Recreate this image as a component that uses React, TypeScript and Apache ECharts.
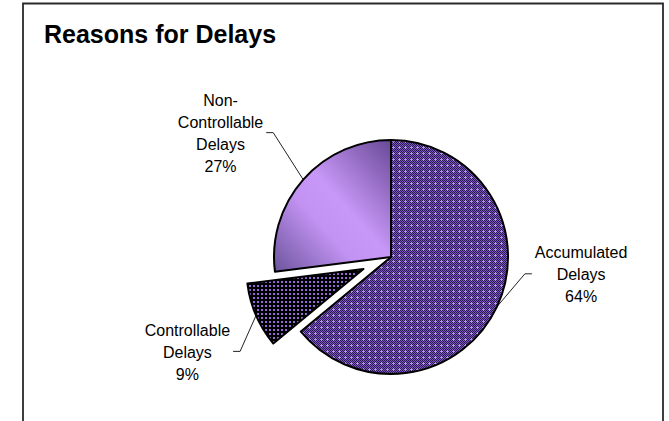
import React, { useEffect, useRef } from 'react';
import * as echarts from 'echarts';

const TITLE = 'Reasons for Delays';
const CATEGORIES = ['Accumulated Delays', 'Controllable Delays', 'Non-Controllable Delays'];
const VALUES = [64, 9, 27];
const EXPLODED_INDEX = 1;

// layout / style constants
const CENTER = [391, 257];
const RADIUS = 117;
const EXPLODE_OFFSET = 30;
const LEADER_ELBOW = [[28, -33], [-16, 36], [-30, -47]];
const LEADER_TAIL = 7;
const LABEL_GAP = 3;
const FONT = '"Liberation Sans", Arial, Helvetica, sans-serif';

function makeAccumulatedPattern(): HTMLCanvasElement {
  const c = document.createElement('canvas');
  c.width = 6;
  c.height = 6;
  const g = c.getContext('2d')!;
  for (let y = 0; y < 6; y++) {
    for (let x = 0; x < 6; x++) {
      g.fillStyle = (x + y) % 2 ? '#7b56c4' : '#2a1a4c';
      g.fillRect(x, y, 1, 1);
    }
  }
  g.fillStyle = '#b690f6';
  g.fillRect(3, 2, 1, 3);
  g.fillRect(2, 3, 3, 1);
  return c;
}

function makeControllablePattern(): HTMLCanvasElement {
  const c = document.createElement('canvas');
  c.width = 4;
  c.height = 4;
  const g = c.getContext('2d')!;
  g.fillStyle = '#000000';
  g.fillRect(0, 0, 4, 4);
  g.fillStyle = '#946ad8';
  g.fillRect(1, 1, 2, 2);
  return c;
}

export default function App() {
  const ref = useRef<HTMLDivElement>(null);

  useEffect(() => {
    if (!ref.current) return;
    const chart = echarts.init(ref.current, undefined, { renderer: 'svg' });

    const fills: any[] = [
      { image: makeAccumulatedPattern(), repeat: 'repeat' },
      { image: makeControllablePattern(), repeat: 'repeat' },
      new echarts.graphic.LinearGradient(1, 0, 0, 1, [
        { offset: 0, color: '#684896' },
        { offset: 0.45, color: '#c898f8' },
        { offset: 0.62, color: '#c393f3' },
        { offset: 1, color: '#6c549c' },
      ]),
    ];

    const total = VALUES.reduce((a, b) => a + b, 0);
    let before = 0;
    for (let i = 0; i < EXPLODED_INDEX; i++) before += VALUES[i];
    const midFrac = (before + VALUES[EXPLODED_INDEX] / 2) / total;
    const theta = midFrac * Math.PI * 2; // clockwise from 12 o'clock
    const explodedCenter = [
      CENTER[0] + Math.sin(theta) * EXPLODE_OFFSET,
      CENTER[1] - Math.cos(theta) * EXPLODE_OFFSET,
    ];

    const labelLayout = (p: any) => {
      const pts = p.labelLinePoints;
      if (!pts) return {};
      const ex = pts[0][0];
      const ey = pts[0][1];
      const off = LEADER_ELBOW[p.dataIndex];
      const elbow = [ex + off[0], ey + off[1]];
      const dir = off[0] < 0 ? -1 : 1;
      const end = [elbow[0] + dir * LEADER_TAIL, elbow[1]];
      const w = p.labelRect.width;
      return {
        x: end[0] + dir * (LABEL_GAP + w / 2),
        y: end[1] + 1,
        align: 'center',
        verticalAlign: 'middle',
        labelLinePoints: [[ex, ey], elbow, end],
      };
    };

    const formatter = (p: any) =>
      p.name.replace(/ /g, '\n').replace('-', '-\n') + '\n' + Math.round(p.percent) + '%';

    const makeData = (visible: (i: number) => boolean) =>
      CATEGORIES.map((name, i) => {
        const show = visible(i);
        return {
          name,
          value: VALUES[i],
          itemStyle: show
            ? { color: fills[i], borderColor: '#000', borderWidth: 2 }
            : { color: 'rgba(0,0,0,0)', borderWidth: 0, opacity: 0 },
          label: { show },
          labelLine: { show },
        };
      });

    const baseSeries = {
      type: 'pie',
      radius: RADIUS,
      startAngle: 90,
      clockwise: true,
      silent: true,
      avoidLabelOverlap: false,
      emphasis: { disabled: true },
      label: {
        position: 'outside',
        formatter,
        color: '#000',
        fontSize: 16,
        lineHeight: 22,
        fontFamily: FONT,
      },
      labelLine: {
        show: true,
        length: 10,
        length2: 8,
        lineStyle: { color: '#222', width: 1 },
      },
      labelLayout,
    };

    chart.setOption({
      animation: false,
      backgroundColor: '#ffffff',
      title: {
        text: TITLE,
        left: 44,
        top: 21,
        padding: 0,
        textStyle: {
          fontFamily: FONT,
          fontWeight: 'bold',
          fontSize: 25,
          color: '#000',
        },
      },
      graphic: [
        {
          type: 'rect',
          shape: { x: 23, y: 3.5, width: 640, height: 460 },
          style: { fill: 'none', stroke: '#2a2a2a', lineWidth: 1.8 },
          silent: true,
        },
      ],
      series: [
        {
          ...baseSeries,
          center: CENTER,
          data: makeData((i) => i !== EXPLODED_INDEX),
        },
        {
          ...baseSeries,
          center: explodedCenter,
          data: makeData((i) => i === EXPLODED_INDEX),
        },
      ],
    } as any);

    return () => chart.dispose();
  }, []);

  return (
    <div
      ref={ref}
      style={{ position: 'absolute', left: 0, top: 0, width: 669, height: 421 }}
    />
  );
}
